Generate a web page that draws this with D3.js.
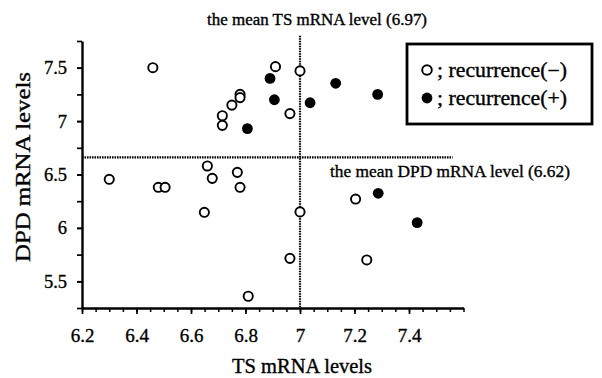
<!DOCTYPE html>
<html>
<head>
<meta charset="utf-8">
<script src="https://cdn.jsdelivr.net/npm/d3@7"></script>
<style>
  html, body { margin: 0; padding: 0; background: #fff; }
  svg { display: block; }
  text { font-family: "Liberation Serif", "Times New Roman", serif; fill: #000; stroke: #000; stroke-width: 0.35px; }
</style>
</head>
<body>
<svg id="chart" width="602" height="378"></svg>
<script>
// ---- data ----
const negTS  = [6.46, 6.91, 7.00, 6.78, 6.78, 6.75, 6.715, 6.715, 6.963, 6.30, 6.48, 6.505, 6.66, 6.678, 6.77, 6.78, 6.649, 7.00, 7.204, 6.963, 6.81, 7.245];
const negDPD = [7.50, 7.51, 7.47, 7.25, 7.22, 7.15, 7.05, 6.96, 7.07, 6.455, 6.38, 6.38, 6.58, 6.464, 6.52, 6.38, 6.146, 6.15, 6.27, 5.715, 5.36, 5.70];
const posTS  = [6.89, 6.906, 6.807, 7.037, 7.131, 7.285, 7.287, 7.43];
const posDPD = [7.40, 7.20, 6.93, 7.172, 7.354, 7.25, 6.324, 6.05];

const xMajorTicks = [6.2, 6.4, 6.6, 6.8, 7.0, 7.2, 7.4];
const xTickLabels = ["6.2", "6.4", "6.6", "6.8", "7", "7.2", "7.4"];
const yMajorTicks = [5.5, 6.0, 6.5, 7.0, 7.5];
const yTickLabels = ["5.5", "6", "6.5", "7", "7.5"];

const meanTSLine = 7.0;     // where the vertical dotted line sits in the picture
const meanDPDLine = 6.66;   // where the horizontal dotted line sits in the picture
const meanTSLabel = "the mean TS mRNA level (6.97)";
const meanDPDLabel = "the mean DPD mRNA level (6.62)";
const legendLabels = ["; recurrence(\u2212)", "; recurrence(+)"];
const xTitle = "TS mRNA levels";
const yTitle = "DPD mRNA levels";

// ---- drawing ----
const svg = d3.select("#chart");
const x = d3.scaleLinear().domain([6.2, 7.6]).range([82, 463.5]);
const y = d3.scaleLinear().domain([5.25, 7.75]).range([308, 41]);

const xMinor = d3.range(6.2, 7.6001, 0.05);
const yMinor = d3.range(5.25, 7.7501, 0.25);

// x minor ticks
svg.append("g").attr("transform", `translate(0,${y(5.25)})`)
  .call(d3.axisBottom(x).tickValues(xMinor).tickSize(4).tickSizeOuter(0).tickFormat(""))
  .call(g => g.select(".domain").remove())
  .call(g => g.selectAll("line").attr("stroke-width", 1.5));
// x major
const gx = svg.append("g").attr("transform", `translate(0,${y(5.25)})`)
  .call(d3.axisBottom(x).tickValues(xMajorTicks).tickSize(6).tickSizeOuter(0)
        .tickPadding(15).tickFormat((d, i) => xTickLabels[i]));
gx.select(".domain").attr("stroke-width", 2.4);
gx.selectAll("line").attr("stroke-width", 1.7);
gx.selectAll("text").style("font-size", "19px").style("font-family", "Liberation Serif");

// y minor
svg.append("g").attr("transform", `translate(${x(6.2)},0)`)
  .call(d3.axisLeft(y).tickValues(yMinor).tickSize(5).tickSizeOuter(0).tickFormat(""))
  .call(g => g.select(".domain").remove())
  .call(g => g.selectAll("line").attr("stroke-width", 1.7));
const gy = svg.append("g").attr("transform", `translate(${x(6.2)},0)`)
  .call(d3.axisLeft(y).tickValues(yMajorTicks).tickSize(5).tickSizeOuter(0)
        .tickPadding(10).tickFormat((d, i) => yTickLabels[i]));
gy.select(".domain").attr("stroke-width", 2.4);
gy.selectAll("line").attr("stroke-width", 1.7);
gy.selectAll("text").style("font-size", "18.5px").style("font-family", "Liberation Serif");

// mean lines
svg.append("line")
  .attr("x1", x(6.2)).attr("x2", x(7.56))
  .attr("y1", y(meanDPDLine)).attr("y2", y(meanDPDLine))
  .attr("stroke", "#000").attr("stroke-width", 2.2).attr("stroke-dasharray", "1.6,0.9");
svg.append("line")
  .attr("x1", x(meanTSLine)).attr("x2", x(meanTSLine))
  .attr("y1", y(7.8)).attr("y2", y(5.25))
  .attr("stroke", "#000").attr("stroke-width", 2.2).attr("stroke-dasharray", "1.6,0.9");

// points
const neg = negTS.map((v, i) => ({ts: v, dpd: negDPD[i]}));
const pos = posTS.map((v, i) => ({ts: v, dpd: posDPD[i]}));
svg.append("g").selectAll("circle").data(neg).join("circle")
  .attr("cx", d => x(d.ts)).attr("cy", d => y(d.dpd)).attr("r", 4.6)
  .attr("fill", "#fff").attr("stroke", "#000").attr("stroke-width", 1.9);
svg.append("g").selectAll("circle").data(pos).join("circle")
  .attr("cx", d => x(d.ts)).attr("cy", d => y(d.dpd)).attr("r", 5.4)
  .attr("fill", "#000");

// mean labels
svg.append("text").attr("x", 207).attr("y", 25)
  .attr("textLength", 220).attr("lengthAdjust", "spacingAndGlyphs")
  .style("font-size", "16px").text(meanTSLabel);
svg.append("text").attr("x", 330).attr("y", 177)
  .attr("textLength", 240).attr("lengthAdjust", "spacingAndGlyphs")
  .style("font-size", "17px").text(meanDPDLabel);

// legend
svg.append("rect").attr("x", 407).attr("y", 44).attr("width", 185).attr("height", 80)
  .attr("fill", "none").attr("stroke", "#000").attr("stroke-width", 2.8);
const lg = svg.append("g");
lg.append("circle").attr("cx", 427).attr("cy", 70).attr("r", 4.8)
  .attr("fill", "#fff").attr("stroke", "#000").attr("stroke-width", 1.9);
lg.append("circle").attr("cx", 427).attr("cy", 98).attr("r", 5.4).attr("fill", "#000");
legendLabels.forEach((t, i) => {
  lg.append("text").attr("x", 437).attr("y", 77 + i * 28)
    .attr("textLength", 130).attr("lengthAdjust", "spacingAndGlyphs")
    .style("font-size", "20px").text(t);
});

// axis titles
svg.append("text").attr("x", 302).attr("y", 373).attr("text-anchor", "middle")
  .attr("textLength", 140).attr("lengthAdjust", "spacingAndGlyphs")
  .style("font-size", "20px").text(xTitle);
svg.append("text").attr("transform", `translate(30,167) rotate(-90)`)
  .attr("text-anchor", "middle")
  .attr("textLength", 190).attr("lengthAdjust", "spacingAndGlyphs")
  .style("font-size", "21px").text(yTitle);
</script>
</body>
</html>
